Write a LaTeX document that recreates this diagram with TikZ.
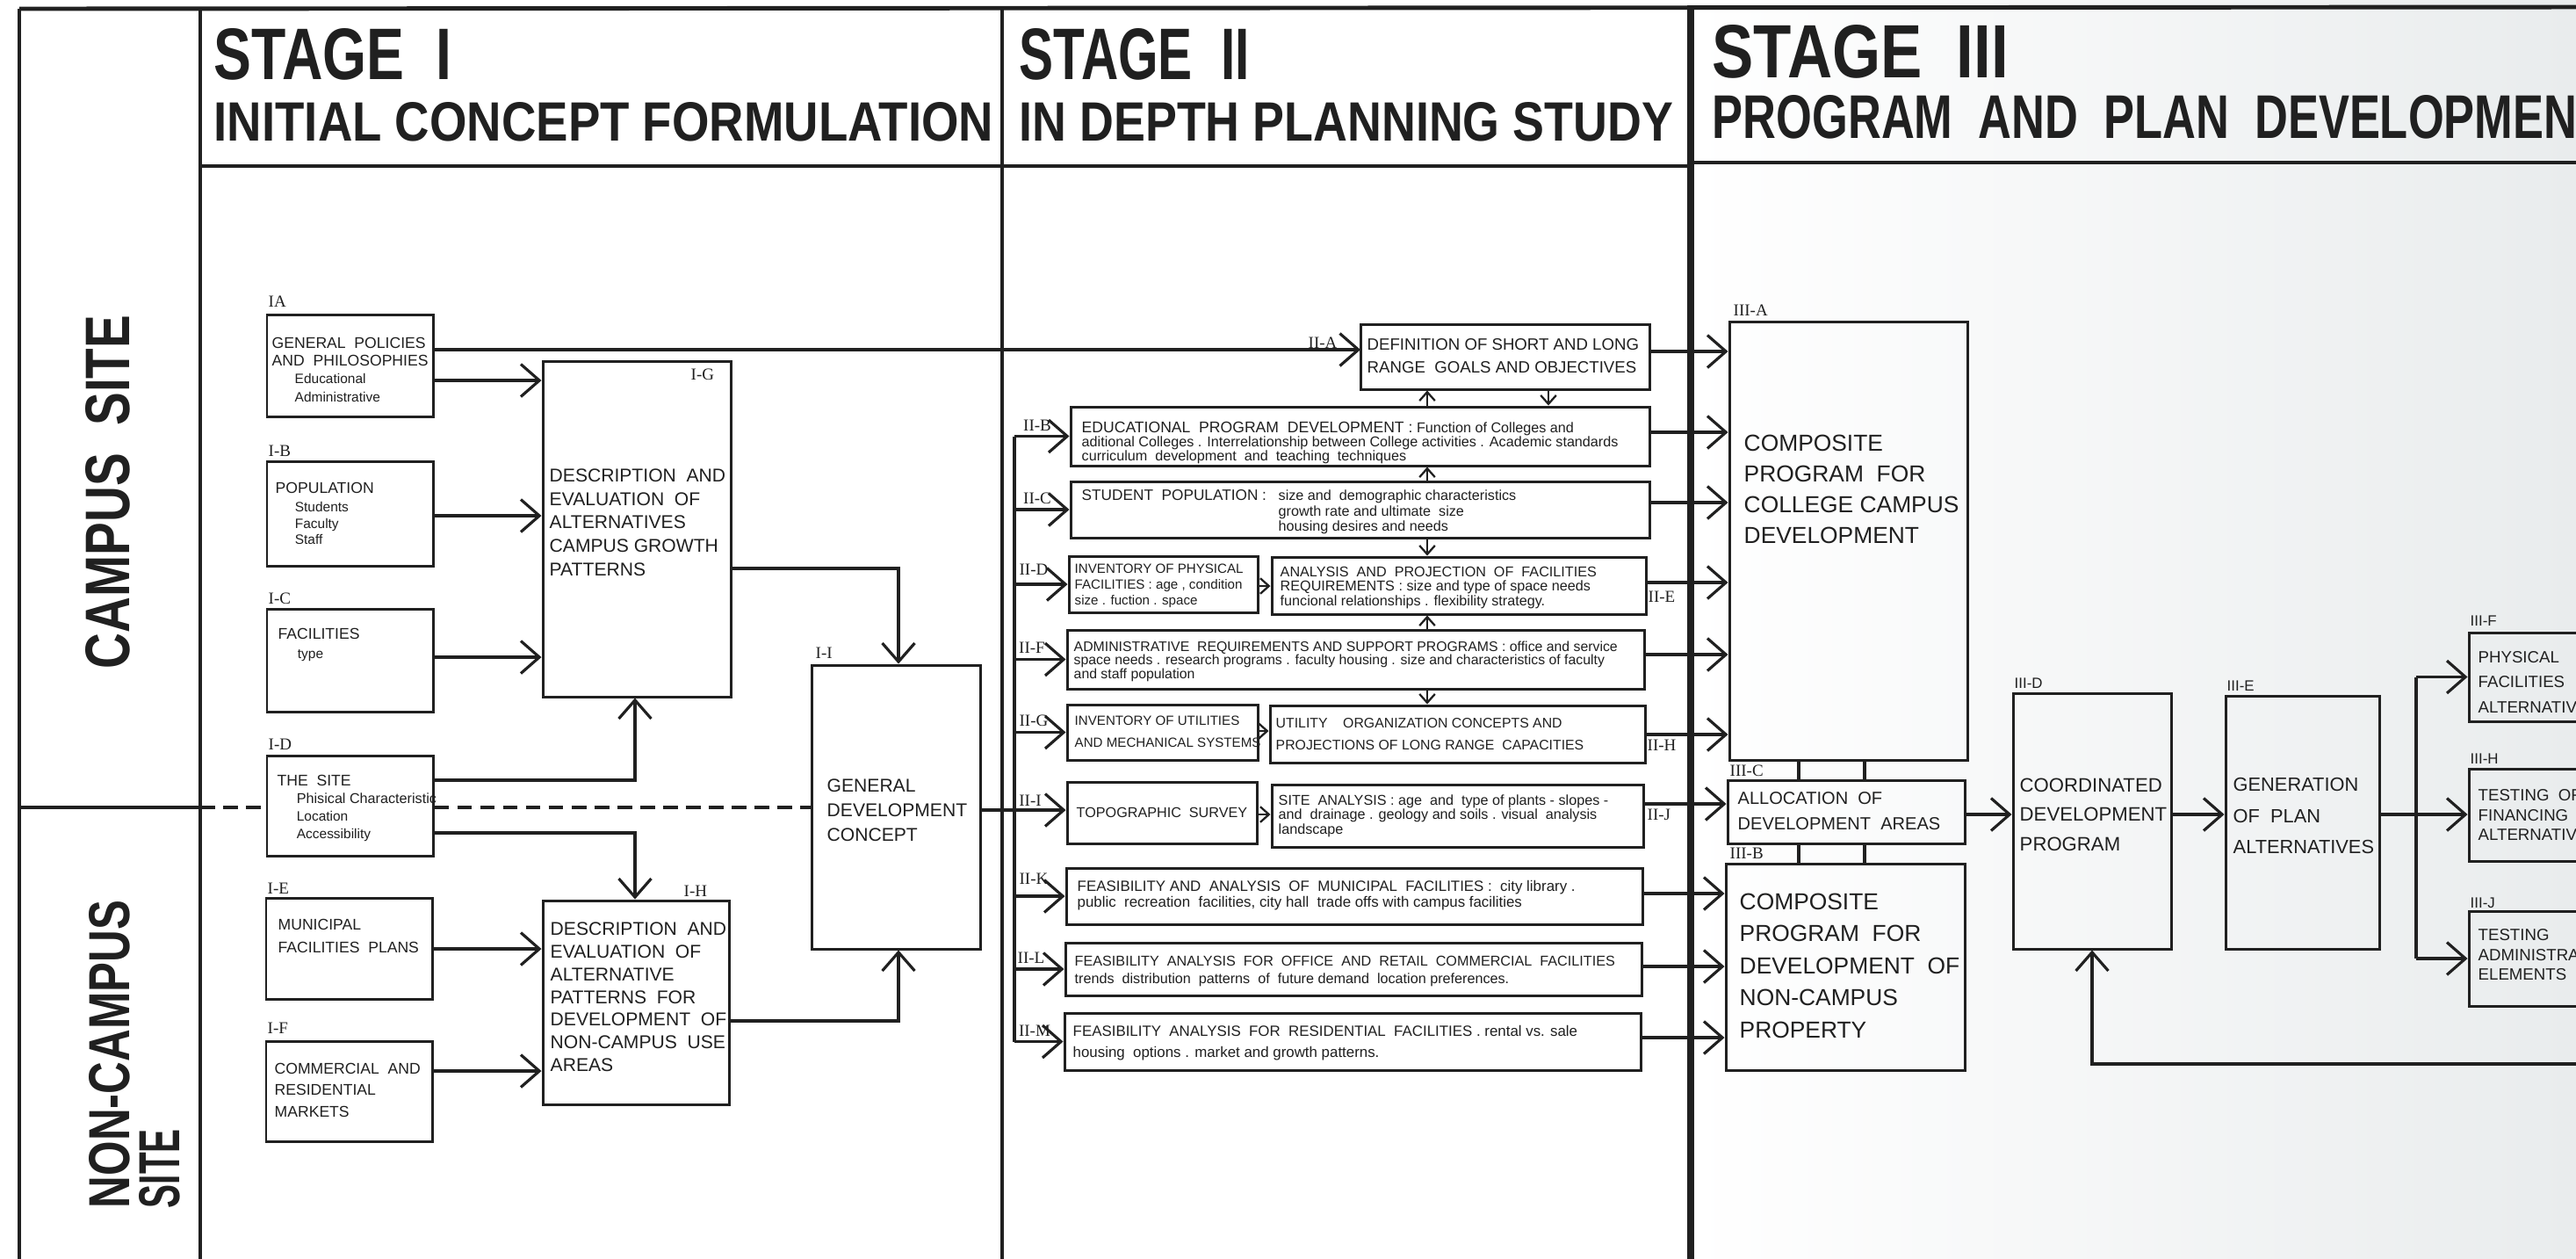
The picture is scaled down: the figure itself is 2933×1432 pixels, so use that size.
\documentclass[tikz,border=0pt]{standalone}
\usepackage{graphicx}
\usepackage{fontspec}
\setmainfont{Liberation Sans}
\newfontfamily\lblfont{Liberation Serif}
\usetikzlibrary{arrows.meta,fit}
\newcommand{\fsz}[2]{\fontsize{#1}{#2}\selectfont}
\definecolor{ink}{RGB}{32,32,32}
\definecolor{paperR}{RGB}{233,236,237}

\tikzset{
  box/.style={draw=ink, line width=0.85pt, inner sep=0pt},
  conn/.style={draw=ink, line width=0.9pt},
  arr/.style={conn, -{Straight Barb[length=6pt,width=10.5pt]}},
  sarr/.style={draw=ink, line width=0.65pt, -{Straight Barb[length=2.8pt,width=5pt]}},
  txt/.style={inner sep=0pt, align=left, anchor=north west, text=ink},
  lbl/.style={inner sep=0pt, anchor=west, text=ink, font=\lblfont\fsz{5.4}{6}},
  lbls/.style={inner sep=0pt, anchor=west, text=ink, font=\fsz{4.8}{6}},
  hdr/.style={inner sep=0pt, anchor=north west, text=ink},
  frame/.style={draw=ink, line width=1.2pt},
  sitedash/.style={draw=ink, line width=0.9pt, dash pattern=on 4.8pt off 2.6pt},
}

\begin{document}
\begin{tikzpicture}[x=0.01cm,y=-0.01cm]
\useasboundingbox (0,0) rectangle (2933,1432);
\clip (0,0) rectangle (2933,1432);

% paper
\fill[white] (0,0) rectangle (2933,1432);
\shade[left color=white, right color=paperR] (1925,0) rectangle (2933,1432);

% helper levels
\coordinate (r398) at (0,398);  \coordinate (r433) at (0,433);
\coordinate (r587) at (0,587);  \coordinate (r748) at (0,748);
\coordinate (r888) at (0,888);  \coordinate (r948) at (0,948);
\coordinate (r1080) at (0,1080); \coordinate (r1219) at (0,1219);
\coordinate (r647) at (0,647);  \coordinate (r1162) at (0,1162);
\coordinate (r919) at (0,919);  \coordinate (r922) at (0,922);
\coordinate (r667) at (0,667);  \coordinate (r832) at (0,832);
\coordinate (r927) at (0,927);
\coordinate (r400) at (0,400);  \coordinate (r492) at (0,492);
\coordinate (r572) at (0,572);  \coordinate (r663) at (0,663);
\coordinate (r745) at (0,745);  \coordinate (r836) at (0,836);
\coordinate (r915) at (0,915);  \coordinate (r1017) at (0,1017);
\coordinate (r1100) at (0,1100); \coordinate (r1181) at (0,1181);
\coordinate (c723) at (723,0);  \coordinate (c1023) at (1023,0);
\coordinate (bus) at (1155,0);
\coordinate (c1625) at (1625,0); \coordinate (c1763) at (1763,0);
\coordinate (c2048) at (2048,0); \coordinate (c2123) at (2123,0);
\coordinate (c2751) at (2751,0); \coordinate (c2382) at (2382,0);

% ---------- frame ----------
\draw[frame, line width=1.4pt] (22,10) -- (2940,8);
\draw[frame, line width=1.4pt] (22,10) -- (22,1440);
\draw[frame, line width=0.9pt] (228,10) -- (228,1440);
\draw[frame, line width=0.9pt] (1141,10) -- (1141,1440);
\draw[frame, line width=2.3pt] (1925,6) -- (1925,1440);
\draw[frame, line width=1.3pt] (228,189) -- (1925,189);
\draw[frame, line width=1.3pt] (1925,185) -- (2940,185);
\draw[frame, line width=0.9pt] (22,919) -- (228,919);

% ---------- headers ----------
\node[hdr] (h1a) at (243,32)  {\resizebox{2.70cm}{0.58cm}{\bfseries STAGE\ \ I}};
\node[hdr] (h1b) at (243,116) {\resizebox{8.87cm}{0.44cm}{\bfseries INITIAL CONCEPT FORMULATION}};
\node[hdr] (h2a) at (1160,32) {\resizebox{2.62cm}{0.58cm}{\bfseries STAGE\ \ II}};
\node[hdr] (h2b) at (1160,116) {\resizebox{7.44cm}{0.44cm}{\bfseries IN DEPTH PLANNING STUDY}};
\node[hdr] (h3a) at (1949,28) {\resizebox{3.37cm}{0.60cm}{\bfseries STAGE\ \ III}};
\node[hdr] (h3b) at (1949,108) {\resizebox{10.16cm}{0.49cm}{\bfseries PROGRAM\ \ AND\ \ PLAN\ \ DEVELOPMENT}};

\node[rotate=90, inner sep=0pt, text=ink] (campus) at (123,560) {\resizebox{4.02cm}{0.50cm}{\bfseries CAMPUS\ \ SITE}};
\node[rotate=90, inner sep=0pt, text=ink] (noncampus) at (125,1200) {\resizebox{3.50cm}{0.46cm}{\bfseries NON-CAMPUS}};
\node[rotate=90, inner sep=0pt, text=ink] (ncsite) at (182,1330) {\resizebox{0.90cm}{0.46cm}{\bfseries SITE}};

% ---------- stage I boxes ----------
\node[box, fit={(304,358) (493,474)}] (s1A) {};
\node[box, fit={(304,525) (493,644)}] (s1B) {};
\node[box, fit={(304,693) (493,810)}] (s1C) {};
\node[box, fit={(304,860) (493,974)}] (s1D) {};
\node[box, fit={(303,1022) (492,1137)}] (s1E) {};
\node[box, fit={(303,1185) (492,1299)}] (s1F) {};
\node[box, fit={(618,411) (832,793)}] (s1G) {};
\node[box, fit={(618,1025) (830,1257)}] (s1H) {};
\node[box, fit={(924,757) (1116,1080)}] (s1I) {};

\node[lbl] (l1A) at (305,343) {IA};
\node[lbl] (l1B) at (305,513) {I-B};
\node[lbl] (l1C) at (305,681) {I-C};
\node[lbl] (l1D) at (305,847) {I-D};
\node[lbl] (l1E) at (304,1011) {I-E};
\node[lbl] (l1F) at (304,1170) {I-F};
\node[lbl] (l1G) at (786,426) {I-G};
\node[lbl] (l1H) at (778,1014) {I-H};
\node[lbl] (l1I) at (928,743) {I-I};

\node[txt, font=\fsz{5}{5.8}] (t1A) at (309,383)
  {GENERAL\ \ POLICIES\\AND\ \ PHILOSOPHIES\\\hspace*{7.4pt}{\fsz{4.4}{5.8}Educational}\\\hspace*{7.4pt}{\fsz{4.4}{5.8}Administrative}};
\node[txt, font=\fsz{5}{5.2}] (t1B) at (313,548)
  {POPULATION\\[1pt]\hspace*{6.3pt}{\fsz{4.4}{5.2}Students}\\\hspace*{6.3pt}{\fsz{4.4}{5.2}Faculty}\\\hspace*{6.3pt}{\fsz{4.4}{5.2}Staff}};
\node[txt, font=\fsz{5}{6.3}] (t1C) at (316,714)
  {FACILITIES\\\hspace*{6.3pt}{\fsz{4.4}{6.3}type}};
\node[txt, font=\fsz{5}{5.7}] (t1D) at (315,881)
  {THE\ \ SITE\\\hspace*{6.3pt}{\fsz{4.6}{5.7}Phisical Characteristic}\\\hspace*{6.3pt}{\fsz{4.4}{5.7}Location}\\\hspace*{6.3pt}{\fsz{4.4}{5.7}Accessibility}};
\node[txt, font=\fsz{5}{7.4}] (t1E) at (316,1045) {MUNICIPAL\\FACILITIES\ \ PLANS};
\node[txt, font=\fsz{5}{7}] (t1F) at (312,1209) {COMMERCIAL\ \ AND\\RESIDENTIAL\\MARKETS};
\node[txt, font=\fsz{6}{7.6}] (t1G) at (625,533)
  {DESCRIPTION\ \ AND\\EVALUATION\ \ OF\\ALTERNATIVES\\CAMPUS GROWTH\\PATTERNS};
\node[txt, font=\fsz{6}{7.35}] (t1H) at (626,1049)
  {DESCRIPTION\ \ AND\\EVALUATION\ \ OF\\ALTERNATIVE\\PATTERNS\ \ FOR\\DEVELOPMENT\ \ OF\\NON-CAMPUS\ \ USE\\AREAS};
\node[txt, font=\fsz{6}{8}] (t1I) at (941,886) {GENERAL\\DEVELOPMENT\\CONCEPT};

% ---------- stage I connectors ----------
\draw[arr] (s1A.east |- r398) -- (1549,398);
\draw[arr] (s1A.east |- r433) -- (s1G.west |- r433);
\draw[arr] (s1B.east |- r587) -- (s1G.west |- r587);
\draw[arr] (s1C.east |- r748) -- (s1G.west |- r748);
\draw[arr] (s1D.east |- r888) -| (s1G.south -| c723);
\draw[arr] (s1D.east |- r948) -| (s1H.north -| c723);
\draw[arr] (s1E.east |- r1080) -- (s1H.west |- r1080);
\draw[arr] (s1F.east |- r1219) -- (s1H.west |- r1219);
\draw[arr] (s1G.east |- r647) -| (s1I.north -| c1023);
\draw[arr] (s1H.east |- r1162) -| (s1I.south -| c1023);
\draw[sitedash] (228,919) -- (s1D.west |- r919);
\draw[sitedash] (s1D.east |- r919) -- (s1I.west |- r919);

% ---------- stage II boxes ----------
\node[box, fit={(1549,369) (1878,443)}] (s2A) {};
\node[box, fit={(1219,463) (1878,530)}] (s2B) {};
\node[box, fit={(1219,548) (1878,612)}] (s2C) {};
\node[box, fit={(1217,633) (1432,697)}] (s2D) {};
\node[box, fit={(1448,634) (1874,699)}] (s2E) {};
\node[box, fit={(1215,717) (1872,784)}] (s2F) {};
\node[box, fit={(1215,802) (1432,865)}] (s2G) {};
\node[box, fit={(1446,803) (1873,868)}] (s2H) {};
\node[box, fit={(1215,890) (1431,960)}] (s2I) {};
\node[box, fit={(1448,893) (1871,964)}] (s2J) {};
\node[box, fit={(1214,988) (1870,1052)}] (s2K) {};
\node[box, fit={(1213,1073) (1869,1133)}] (s2L) {};
\node[box, fit={(1212,1153) (1868,1218)}] (s2M) {};

\node[lbl, anchor=center] (l2A) at (1506,390) {II-A};
\node[lbl, anchor=center] (l2B) at (1181,484) {II-B};
\node[lbl, anchor=center] (l2C) at (1181,567) {II-C};
\node[lbl, anchor=center] (l2D) at (1177,648) {II-D};
\node[lbl, anchor=center] (l2F) at (1175,737) {II-F};
\node[lbl, anchor=center] (l2G) at (1177,820) {II-G};
\node[lbl, anchor=center] (l2I) at (1173,911) {II-I};
\node[lbl, anchor=center] (l2K) at (1177,1000) {II-K};
\node[lbl, anchor=center] (l2L) at (1174,1090) {II-L};
\node[lbl, anchor=center] (l2M) at (1178,1173) {II-M};
\node[lbl] (l2E) at (1876,679) {II-E};
\node[lbl] (l2H) at (1875,848) {II-H};
\node[lbl] (l2J) at (1875,927) {II-J};

\node[txt, font=\fsz{5.3}{7.4}] (t2A) at (1556,385)
  {DEFINITION OF SHORT AND LONG\\RANGE\ \ GOALS AND OBJECTIVES};
\node[txt, font=\fsz{4.6}{4.6}] (t2B) at (1231,479)
  {{\fsz{5.0}{4.6}EDUCATIONAL\ \ PROGRAM\ \ DEVELOPMENT :} Function of Colleges and\\aditional Colleges . Interrelationship between College activities . Academic standards\\curriculum\ \ development\ \ and\ \ teaching\ \ techniques};
\node[txt, font=\fsz{4.9}{5}] (t2Ca) at (1231,557) {STUDENT\ \ POPULATION :};
\node[txt, font=\fsz{4.6}{5}] (t2Cb) at (1455,557)
  {size and\ \ demographic characteristics\\growth rate and ultimate\ \ size\\housing desires and needs};
\node[txt, font=\fsz{4.3}{5.1}] (t2D) at (1223,641)
  {INVENTORY OF PHYSICAL\\FACILITIES : age , condition\\size . fuction . space};
\node[txt, font=\fsz{4.6}{4.7}] (t2E) at (1457,644)
  {ANALYSIS\ \ AND\ \ PROJECTION\ \ OF\ \ FACILITIES\\REQUIREMENTS : size and type of space needs\\funcional relationships . flexibility strategy.};
\node[txt, font=\fsz{4.5}{4.4}] (t2F) at (1222,729)
  {ADMINISTRATIVE\ \ REQUIREMENTS AND SUPPORT PROGRAMS : office and service\\space needs . research programs . faculty housing . size and characteristics of faculty\\and staff population};
\node[txt, font=\fsz{4.3}{7.1}] (t2G) at (1223,814) {INVENTORY OF UTILITIES\\AND MECHANICAL SYSTEMS};
\node[txt, font=\fsz{4.5}{7.1}] (t2H) at (1452,817)
  {UTILITY\ \ \ \ ORGANIZATION CONCEPTS AND\\PROJECTIONS OF LONG RANGE\ \ CAPACITIES};
\node[txt, font=\fsz{4.6}{5}, anchor=west] (t2I) at (1225,925) {TOPOGRAPHIC\ \ SURVEY};
\node[txt, font=\fsz{4.6}{4.7}] (t2J) at (1455,904)
  {SITE\ \ ANALYSIS : age\ \ and\ \ type of plants - slopes -\\and\ \ drainage . geology and soils . visual\ \ analysis\\landscape};
\node[txt, font=\fsz{4.8}{5.1}] (t2K) at (1226,1002)
  {FEASIBILITY AND\ \ ANALYSIS\ \ OF\ \ MUNICIPAL\ \ FACILITIES :\ \ city library .\\public\ \ recreation\ \ facilities, city hall\ \ trade offs with campus facilities};
\node[txt, font=\fsz{4.6}{5.7}] (t2L) at (1223,1087)
  {FEASIBILITY\ \ ANALYSIS\ \ FOR\ \ OFFICE\ \ AND\ \ RETAIL\ \ COMMERCIAL\ \ FACILITIES\\trends\ \ distribution\ \ patterns\ \ of\ \ future demand\ \ location preferences.};
\node[txt, font=\fsz{4.8}{6.8}] (t2M) at (1221,1167)
  {FEASIBILITY\ \ ANALYSIS\ \ FOR\ \ RESIDENTIAL\ \ FACILITIES . rental vs. sale\\housing\ \ options . market and growth patterns.};

% ---------- stage II connectors ----------
\draw[conn] (bus |- s2B.west) -- (bus |- s2M.west);
\foreach \b in {s2B,s2C,s2D,s2F,s2G,s2K,s2L,s2M}
  \draw[arr] (bus |- \b.west) -- (\b.west);
\draw[arr] (s1I.east |- r922) -- (s2I.west |- r922);

\draw[sarr] (s2B.north -| c1625) -- (s2A.south -| c1625);
\draw[sarr] (s2A.south -| c1763) -- (s2B.north -| c1763);
\draw[sarr] (s2C.north -| c1625) -- (s2B.south -| c1625);
\draw[sarr] (s2C.south -| c1625) -- (s2E.north -| c1625);
\draw[sarr] (s2F.north -| c1625) -- (s2E.south -| c1625);
\draw[sarr] (s2F.south -| c1625) -- (s2H.north -| c1625);
\draw[sarr] (s2D.east |- r667) -- (s2E.west |- r667);
\draw[sarr] (s2G.east |- r832) -- (s2H.west |- r832);
\draw[sarr] (s2I.east |- r927) -- (s2J.west |- r927);

% ---------- stage III boxes ----------
\node[box, fit={(1969,366) (2240,865)}] (s3A) {};
\node[box, fit={(1967,888) (2237,960)}] (s3C) {};
\node[box, fit={(1965,983) (2237,1218)}] (s3B) {};
\node[box, fit={(2292,789) (2472,1080)}] (s3D) {};
\node[box, fit={(2534,792) (2709,1080)}] (s3E) {};
\node[box, fit={(2811,720) (2990,821)}] (s3F) {};
\node[box, fit={(2811,875) (2990,980)}] (s3H) {};
\node[box, fit={(2811,1037) (2990,1145)}] (s3J) {};

\node[lbl] (l3A) at (1973,353) {III-A};
\node[lbl] (l3C) at (1969,877) {III-C};
\node[lbl] (l3B) at (1969,971) {III-B};
\node[lbls] (l3D) at (2293,778) {III-D};
\node[lbls] (l3E) at (2535,781) {III-E};
\node[lbls] (l3F) at (2812,707) {III-F};
\node[lbls] (l3H) at (2812,864) {III-H};
\node[lbls] (l3J) at (2812,1028) {III-J};

\node[txt, font=\fsz{7.5}{10}] (t3A) at (1985,494) {COMPOSITE\\PROGRAM\ \ FOR\\COLLEGE CAMPUS\\DEVELOPMENT};
\node[txt, font=\fsz{5.7}{8.2}] (t3C) at (1978,901) {ALLOCATION\ \ OF\\DEVELOPMENT\ \ AREAS};
\node[txt, font=\fsz{7.5}{10.4}] (t3B) at (1980,1016) {COMPOSITE\\PROGRAM\ \ FOR\\DEVELOPMENT\ \ OF\\NON-CAMPUS\\PROPERTY};
\node[txt, font=\fsz{6.3}{9.6}] (t3D) at (2299,885) {COORDINATED\\DEVELOPMENT\\PROGRAM};
\node[txt, font=\fsz{6.2}{10}] (t3E) at (2542,885) {GENERATION\\OF\ \ PLAN\\ALTERNATIVES};
\node[txt, font=\fsz{5.3}{8}] (t3F) at (2821,741) {PHYSICAL\\FACILITIES\\ALTERNATIVES};
\node[txt, font=\fsz{5.3}{6.4}] (t3H) at (2821,898) {TESTING\ \ OF\\FINANCING\\ALTERNATIVES};
\node[txt, font=\fsz{5.3}{6.4}] (t3J) at (2821,1057) {TESTING\\ADMINISTRATIVE\\ELEMENTS};

% ---------- stage II to stage III ----------
\draw[arr] (s2A.east |- r400) -- (s3A.west |- r400);
\draw[arr] (s2B.east |- r492) -- (s3A.west |- r492);
\draw[arr] (s2C.east |- r572) -- (s3A.west |- r572);
\draw[arr] (s2E.east |- r663) -- (s3A.west |- r663);
\draw[arr] (s2F.east |- r745) -- (s3A.west |- r745);
\draw[arr] (s2H.east |- r836) -- (s3A.west |- r836);
\draw[arr] (s2J.east |- r915) -- (s3C.west |- r915);
\draw[arr] (s2K.east |- r1017) -- (s3B.west |- r1017);
\draw[arr] (s2L.east |- r1100) -- (s3B.west |- r1100);
\draw[arr] (s2M.east |- r1181) -- (s3B.west |- r1181);

% ---------- stage III connectors ----------
\draw[conn] (s3A.south -| c2048) -- (s3C.north -| c2048);
\draw[conn] (s3A.south -| c2123) -- (s3C.north -| c2123);
\draw[conn] (s3C.south -| c2048) -- (s3B.north -| c2048);
\draw[conn] (s3C.south -| c2123) -- (s3B.north -| c2123);
\draw[arr] (s3C.east |- r927) -- (s3D.west |- r927);
\draw[arr] (s3D.east |- r927) -- (s3E.west |- r927);
\draw[conn] (s3E.east |- r927) -- (c2751 |- r927);
\draw[conn] (c2751 |- s3F.west) -- (c2751 |- s3J.west);
\draw[arr] (c2751 |- s3F.west) -- (s3F.west);
\draw[arr] (c2751 |- r927) -- (s3H.west |- r927);
\draw[arr] (c2751 |- s3J.west) -- (s3J.west);
\coordinate (fb) at (2950,1211);
\draw[arr] (fb) -| (s3D.south -| c2382);
\end{tikzpicture}
\end{document}
